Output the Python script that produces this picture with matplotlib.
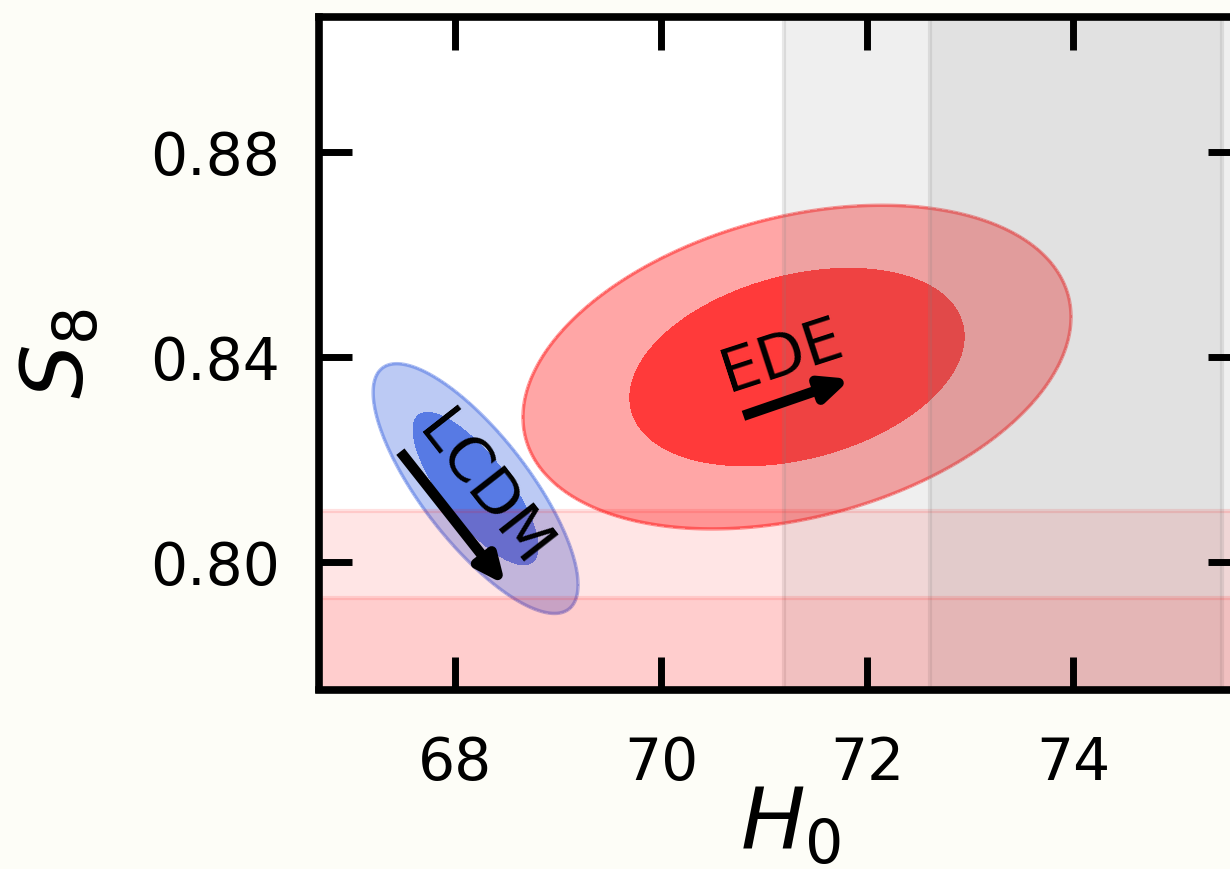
import numpy as np
import matplotlib.pyplot as plt

# local H0 (SH0ES) and weak lensing S8: centre and 1 sigma
h0_local = 74.03
h0_local_err = 1.42
s8_wl = 0.776
s8_wl_err = 0.017

# 2D posteriors: mean (H0, S8), sigma (H0, S8), correlation
lcdm_mean = [68.20, 0.8143]
lcdm_sigma = [0.40, 0.0098]
lcdm_rho = -0.77

ede_mean = [71.32, 0.8380]
ede_sigma = [1.07, 0.0127]
ede_rho = 0.31

# arrows, (tail, head) in data units
lcdm_arrow = [(67.47, 0.8215), (68.49, 0.7955)]
ede_arrow = [(70.80, 0.8285), (71.84, 0.8357)]

# text labels: (H0, S8, rotation)
lcdm_text = (68.27, 0.8140, -52)
ede_text = (71.17, 0.8402, 18)

xticks = [68, 70, 72, 74]
yticks = [0.80, 0.84, 0.88]
ytick_labels = ['0.80', '0.84', '0.88']

# 68% and 95% levels of delta chi2 for 2 parameters
levels = [2.30, 6.18]


def chi2(mean, sigma, rho, X, Y):
    dx = (X - mean[0]) / sigma[0]
    dy = (Y - mean[1]) / sigma[1]
    return (dx**2 - 2*rho*dx*dy + dy**2) / (1 - rho**2)


fig = plt.figure(figsize=(12.3, 8.7), dpi=100, facecolor='#fdfdf7')
ax = fig.add_axes([319/1230, 179.5/870, 922/1230, 673/870])
ax.set_facecolor('white')

X, Y = np.meshgrid(np.linspace(65, 77, 800), np.linspace(0.72, 0.92, 800))

# LCDM
c = chi2(lcdm_mean, lcdm_sigma, lcdm_rho, X, Y)
ax.contourf(X, Y, c, levels=[0, levels[1]], colors=['royalblue'], alpha=0.35, zorder=1)
ax.contourf(X, Y, c, levels=[0, levels[0]], colors=['royalblue'], alpha=0.82, zorder=1)
ax.contour(X, Y, c, levels=[levels[1]], colors=['royalblue'], alpha=0.45, linewidths=2.5, zorder=1)

# EDE
c = chi2(ede_mean, ede_sigma, ede_rho, X, Y)
ax.contourf(X, Y, c, levels=[0, levels[1]], colors=['red'], alpha=0.35, zorder=1)
ax.contourf(X, Y, c, levels=[0, levels[0]], colors=['red'], alpha=0.65, zorder=1)
ax.contour(X, Y, c, levels=[levels[1]], colors=['red'], alpha=0.4, linewidths=2.5, zorder=1)

# bands on top of the contours
for k in [2, 1]:
    ax.axvspan(h0_local - k*h0_local_err, h0_local + k*h0_local_err,
               facecolor=(0.5, 0.5, 0.5, 0.12), edgecolor=(0.5, 0.5, 0.5, 0.18), lw=3, zorder=1.5)
    ax.axhspan(s8_wl - k*s8_wl_err, s8_wl + k*s8_wl_err,
               facecolor=(1, 0, 0, 0.1), edgecolor=(1, 0, 0, 0.12), lw=3, zorder=1.5)

# labels and arrows
ax.text(lcdm_text[0], lcdm_text[1], 'LCDM', rotation=lcdm_text[2], fontsize=44,
        ha='center', va='center', rotation_mode='anchor', zorder=5)
ax.text(ede_text[0], ede_text[1], 'EDE', rotation=ede_text[2], fontsize=44,
        ha='center', va='center', rotation_mode='anchor', zorder=5)
for tail, head in [lcdm_arrow, ede_arrow]:
    ax.annotate('', xy=head, xytext=tail, zorder=5,
                arrowprops=dict(arrowstyle='-|>,head_length=0.4,head_width=0.18',
                                color='black', lw=7.5, mutation_scale=40,
                                shrinkA=0, shrinkB=0, capstyle='butt'))

ax.set_xlim(66.68, 75.63)
ax.set_ylim(0.7751, 0.9064)
ax.set_xticks(xticks)
ax.set_yticks(yticks)
ax.set_yticklabels(ytick_labels)
for s in ax.spines.values():
    s.set_linewidth(5.5)
    s.set_zorder(6)
ax.tick_params(direction='in', length=24, width=5, top=True, right=True, labelsize=42)
ax.tick_params(axis='x', pad=32)
ax.tick_params(axis='y', pad=28)

ax.set_xlabel('$H_0$', fontsize=62)
ax.set_ylabel('$S_8$', fontsize=62)
ax.xaxis.set_label_coords(0.511, -0.14)
ax.yaxis.set_label_coords(-0.235, 0.5)

fig.savefig('out.png', dpi=100, facecolor=fig.get_facecolor())
